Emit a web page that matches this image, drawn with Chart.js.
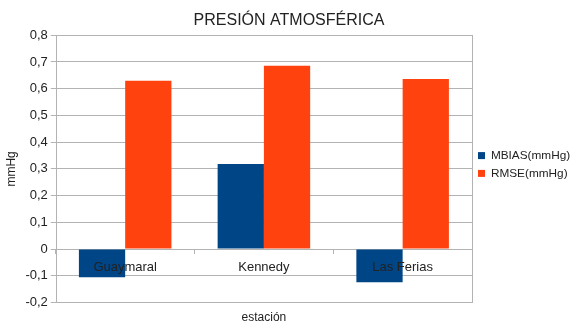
<!DOCTYPE html>
<html>
<head>
<meta charset="utf-8">
<script src="https://cdn.jsdelivr.net/npm/chart.js@4.4.0/dist/chart.umd.min.js"></script>
<style>
  html, body { margin: 0; padding: 0; background: #fff; }
  #wrap { width: 570px; height: 322px; }
</style>
</head>
<body>
<div id="wrap"><canvas id="chart"></canvas></div>
<script>
// Datos del gráfico
const estaciones = ['Guaymaral', 'Kennedy', 'Las Ferias'];
const mbias = [-0.105, 0.318, -0.124];
const rmse = [0.630, 0.686, 0.636];
const yTicks = [-0.2, -0.1, 0, 0.1, 0.2, 0.3, 0.4, 0.5, 0.6, 0.7, 0.8];

const FONT = 'Liberation Sans, Arial, sans-serif';

// Marco gris alrededor del área del gráfico
const frame = {
    id: 'frame',
    afterDraw(chart) {
        const a = chart.chartArea;
        const ctx = chart.ctx;
        ctx.save();
        ctx.strokeStyle = '#b3b3b3';
        ctx.lineWidth = 1;
        ctx.strokeRect(Math.round(a.left) + 0.5, Math.round(a.top) + 0.5,
            Math.round(a.right - a.left), Math.round(a.bottom - a.top));
        ctx.restore();
    }
};

const ctx = document.getElementById('chart').getContext('2d');
new Chart(ctx, {
    type: 'bar',
    data: {
        labels: estaciones,
        datasets: [{
            label: 'MBIAS(mmHg)',
            data: mbias,
            backgroundColor: '#004586',
            borderWidth: 0,
            categoryPercentage: 0.667,
            barPercentage: 1
        }, {
            label: 'RMSE(mmHg)',
            data: rmse,
            backgroundColor: '#ff420e',
            borderWidth: 0,
            categoryPercentage: 0.667,
            barPercentage: 1
        }]
    },
    options: {
        responsive: true,
        maintainAspectRatio: false,
        animation: false,
        layout: { padding: { left: 4, right: -4, top: 4, bottom: -3 } },
        plugins: {
            title: {
                display: true,
                text: 'PRESIÓN ATMOSFÉRICA',
                color: '#222',
                font: { family: FONT, size: 16, weight: 'normal' },
                padding: { top: 7, bottom: 5 }
            },
            legend: {
                position: 'right',
                maxWidth: 102,
                labels: {
                    color: '#222',
                    font: { family: FONT, size: 11.8 },
                    boxWidth: 7,
                    boxHeight: 7,
                    padding: 6
                }
            },
            tooltip: { enabled: false }
        },
        scales: {
            x: {
                position: { y: 0 },
                offset: true,
                grid: { display: true, drawOnChartArea: false, drawTicks: true, tickLength: 5, color: '#b3b3b3', offset: true },
                border: { display: false },
                ticks: { z: 1, color: '#222', font: { family: FONT, size: 13 }, padding: 6 }
            },
            x2: {
                position: 'bottom',
                labels: estaciones,
                grid: { display: false },
                border: { display: false },
                ticks: { display: false },
                title: { display: true, text: 'estación', color: '#222', font: { family: FONT, size: 12 }, padding: { top: 0, bottom: 0 } }
            },
            y: {
                min: yTicks[0],
                max: yTicks[yTicks.length - 1],
                afterBuildTicks: function (scale) {
                    scale.ticks = yTicks.map(v => ({ value: v }));
                },
                grid: { color: '#b3b3b3', drawTicks: true, tickLength: 5 },
                border: { display: false },
                ticks: {
                    color: '#222',
                    font: { family: FONT, size: 13 },
                    padding: 3,
                    callback: function (value) {
                        const v = Math.round(value * 10) / 10;
                        return v === 0 ? '0' : v.toFixed(1).replace('.', ',');
                    }
                },
                title: { display: true, text: 'mmHg', color: '#222', font: { family: FONT, size: 12 }, padding: { top: 0, bottom: 4 } }
            }
        }
    },
    plugins: [frame]
});
</script>
</body>
</html>
